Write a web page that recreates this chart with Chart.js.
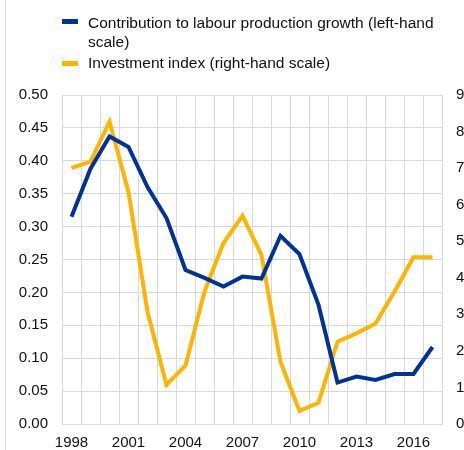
<!DOCTYPE html>
<html><head><meta charset="utf-8">
<script src="https://cdn.jsdelivr.net/npm/chart.js@4"></script>
<style>
html,body{margin:0;padding:0;background:#fff;}
#wrap{position:relative;width:464px;height:450px;font-family:"Liberation Sans",Arial,sans-serif;overflow:hidden;}
#frame{position:absolute;left:5px;top:0;width:1px;height:450px;background:#dcdcdc;}
.leg{position:absolute;left:62px;font-size:15.5px;line-height:19px;color:#111;}
.sw{position:absolute;left:0;width:16px;height:5px;}
.tx{position:absolute;left:26px;top:0;white-space:nowrap;}
canvas{position:absolute;left:0;top:0;}
</style></head>
<body>
<div id="wrap">
  <div id="frame"></div>
  <canvas id="c" width="464" height="450"></canvas>
  <div class="leg" id="leg1" style="top:13px;"><div class="sw" style="top:6px;background:#003299;"></div><div class="tx">Contribution to labour production growth (left-hand<br>scale)</div></div>
  <div class="leg" id="leg2" style="top:53px;"><div class="sw" style="top:8px;background:#ffb400;"></div><div class="tx">Investment index (right-hand scale)</div></div>
</div>
<script>
const years = ["1998","1999","2000","2001","2002","2003","2004","2005","2006","2007","2008","2009","2010","2011","2012","2013","2014","2015","2016","2017"];
const contribution = [0.315,0.388,0.437,0.421,0.360,0.313,0.234,0.222,0.209,0.224,0.221,0.286,0.258,0.181,0.063,0.072,0.067,0.076,0.076,0.117];
const investment = [7.0,7.18,8.27,6.35,3.07,1.07,1.6,3.62,4.95,5.7,4.62,1.7,0.36,0.58,2.25,2.48,2.75,3.62,4.56,4.56];
const seriesNames = ["Contribution to labour production growth (left-hand scale)","Investment index (right-hand scale)"];

const gridColor = '#d9d9d9';
const tickFont = {family:'"Liberation Sans", Arial, sans-serif', size:15};

new Chart(document.getElementById('c'), {
  type: 'line',
  data: {
    labels: years,
    datasets: [
      {label: seriesNames[0], data: contribution, yAxisID: 'y', borderColor:'#003299', backgroundColor:'#003299', borderWidth:4, pointRadius:0, tension:0, fill:false},
      {label: seriesNames[1], data: investment, yAxisID: 'y1', borderColor:'#ffb400', backgroundColor:'#ffb400', borderWidth:4, pointRadius:0, tension:0, fill:false}
    ]
  },
  options: {
    responsive: false,
    animation: false,
    layout: {padding: {top: 95, bottom: 0, left: 0, right: 0}},
    plugins: {legend: {display:false}, tooltip:{enabled:false}},
    scales: {
      x: {
        type: 'category',
        offset: true,
        grid: {offset: true, color: gridColor, drawTicks: false, lineWidth:1},
        border: {color: gridColor},
        ticks: {autoSkip:false, maxRotation:0, minRotation:0, padding:10, color:'#111', font: tickFont,
          callback: function(v, i){ return i % 3 === 0 ? years[i] : ''; }},
        afterFit: s => { s.height = 26; }
      },
      y: {
        position: 'left',
        min: 0, max: 0.5,
        grid: {color: gridColor, drawTicks:false},
        border: {color: gridColor},
        ticks: {stepSize: 0.05, padding: 14, color:'#111', font: tickFont, callback: v => Number(v).toFixed(2)},
        afterFit: s => { s.width = 62; }
      },
      y1: {
        position: 'right',
        min: 0, max: 9,
        grid: {drawOnChartArea:false, drawTicks:false},
        border: {color: gridColor},
        ticks: {stepSize: 1, padding: 14, color:'#111', font: tickFont},
        afterFit: s => { s.width = 22; }
      }
    }
  }
});
</script>
</body></html>
